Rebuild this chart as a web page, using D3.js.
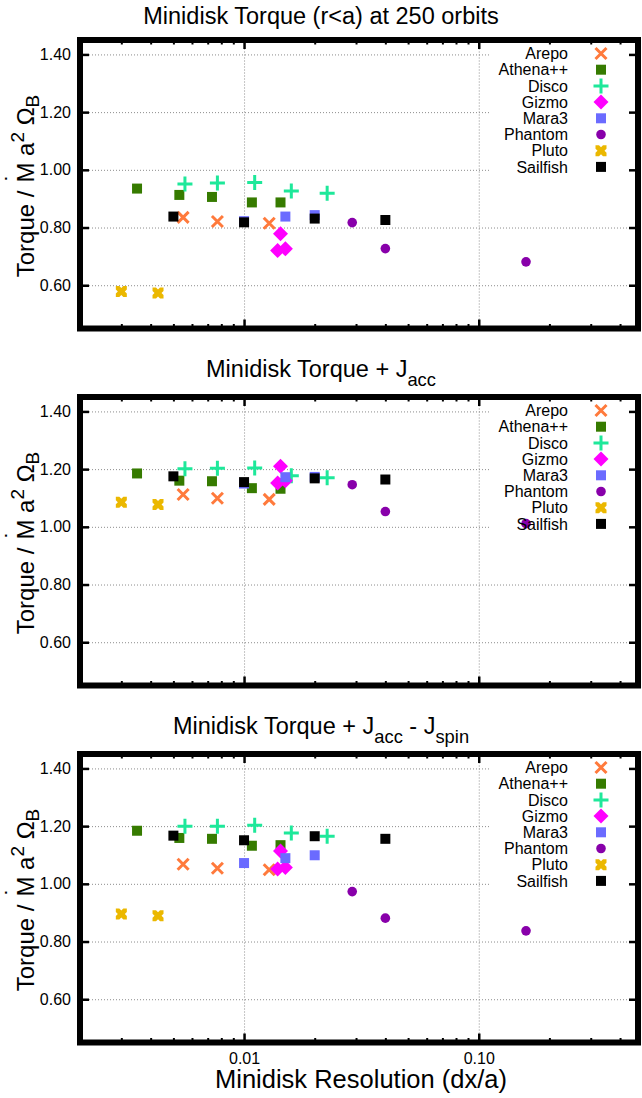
<!DOCTYPE html>
<html>
<head>
<meta charset="utf-8">
<script src="https://cdn.jsdelivr.net/npm/d3@7"></script>
<style>
  body { margin: 0; background: #fff; }
  text { font-family: "Liberation Sans", Arial, sans-serif; fill: #000; }
</style>
</head>
<body>
<div id="chart"></div>
<script>
// Series names, colours and marker shapes (legend order = draw order)
var seriesNames = ["Arepo", "Athena++", "Disco", "Gizmo", "Mara3", "Phantom", "Pluto", "Sailfish"];
var seriesColors = ["#ff7a3c", "#367b00", "#1ee89a", "#ff00ff", "#6b6bff", "#8800aa", "#ebb800", "#000000"];
var seriesShapes = ["x", "square", "plus", "diamond", "square", "circle", "bowtie", "square"];

// Minidisk resolution (dx/a) of each run
var arepoRes = [0.0055, 0.0077, 0.0128];
var athenaRes = [0.0035, 0.0053, 0.0073, 0.0108, 0.0143];
var discoRes = [0.0056, 0.0077, 0.0111, 0.0159, 0.0226];
var gizmoRes = [0.0143, 0.0139, 0.0150];
var mara3Res = [0.010, 0.015, 0.020];
var phantomRes = [0.0289, 0.040, 0.159];
var plutoRes = [0.0030, 0.0043];
var sailfishRes = [0.005, 0.010, 0.020, 0.040];

// Panel 1: minidisk torque (r<a)
var arepoTorque = [0.835, 0.821, 0.815];
var athenaTorque = [0.935, 0.913, 0.906, 0.887, 0.887];
var discoTorque = [0.951, 0.954, 0.956, 0.927, 0.919];
var gizmoTorque = [0.778, 0.720, 0.726];
var mara3Torque = [0.822, 0.838, 0.843];
var phantomTorque = [0.817, 0.727, 0.681];
var plutoTorque = [0.578, 0.573];
var sailfishTorque = [0.838, 0.818, 0.831, 0.826];

// Panel 2: torque + J_acc
var arepoAcc = [1.112, 1.099, 1.095];
var athenaAcc = [1.185, 1.160, 1.158, 1.134, 1.132];
var discoAcc = [1.201, 1.203, 1.204, 1.177, 1.170];
var gizmoAcc = [1.210, 1.152, 1.160];
var mara3Acc = [1.150, 1.172, 1.173];
var phantomAcc = [1.146, 1.053, 1.011];
var plutoAcc = [1.085, 1.077];
var sailfishAcc = [1.175, 1.155, 1.168, 1.164];

// Panel 3: torque + J_acc - J_spin
var arepoSpin = [1.068, 1.054, 1.049];
var athenaSpin = [1.184, 1.159, 1.156, 1.132, 1.134];
var discoSpin = [1.200, 1.200, 1.203, 1.176, 1.165];
var gizmoSpin = [1.114, 1.051, 1.057];
var mara3Spin = [1.072, 1.089, 1.099];
var phantomSpin = [0.973, 0.881, 0.837];
var plutoSpin = [0.895, 0.889];
var sailfishSpin = [1.167, 1.151, 1.165, 1.156];

// Axis ticks
var yTicks = [0.6, 0.8, 1.0, 1.2, 1.4];
var xMajorTicks = [0.01, 0.1];
var xMinorTicks = [0.003, 0.004, 0.005, 0.006, 0.007, 0.008, 0.009,
                   0.02, 0.03, 0.04, 0.05, 0.06, 0.07, 0.08, 0.09, 0.2, 0.3, 0.4];

var resolutions = [arepoRes, athenaRes, discoRes, gizmoRes, mara3Res, phantomRes, plutoRes, sailfishRes];
var panels = [
  { title: [["Minidisk Torque (r<a) at 250 orbits", 0]],
    values: [arepoTorque, athenaTorque, discoTorque, gizmoTorque, mara3Torque, phantomTorque, plutoTorque, sailfishTorque] },
  { title: [["Minidisk Torque + J", 0], ["acc", -1]],
    values: [arepoAcc, athenaAcc, discoAcc, gizmoAcc, mara3Acc, phantomAcc, plutoAcc, sailfishAcc] },
  { title: [["Minidisk Torque + J", 0], ["acc", -1], [" - J", 0], ["spin", -1]],
    values: [arepoSpin, athenaSpin, discoSpin, gizmoSpin, mara3Spin, phantomSpin, plutoSpin, sailfishSpin] }
];

var svgWidth = 642;
var svgHeight = 1098;
var left = 80, right = 638;
var panelTops = [40, 397, 754];
var panelHeight = 288.5;

var svg = d3.select("#chart")
  .append("svg")
  .attr("width", svgWidth)
  .attr("height", svgHeight);

var xScale = d3.scaleLog()
  .domain([0.002, 0.477])
  .range([left, right]);

// marker path for each shape, centred on 0,0
function markerPath(shape) {
  if (shape === "square") return "M-5,-5H5V5H-5Z";
  if (shape === "diamond") return "M0,-7.5L7.5,0L0,7.5L-7.5,0Z";
  if (shape === "x") return "M-5.5,-5.5L5.5,5.5M-5.5,5.5L5.5,-5.5";
  if (shape === "plus") return "M-7.5,0H7.5M0,-7.5V7.5";
  if (shape === "bowtie") {
    return "M-5.5,-5.5L-2,-5.5L0,-3.5L2,-5.5L5.5,-5.5L5.5,-2L3.5,0L5.5,2L5.5,5.5" +
           "L2,5.5L0,3.5L-2,5.5L-5.5,5.5L-5.5,2L-3.5,0L-5.5,-2Z";
  }
  return null;
}

function drawMarker(sel, shape, color) {
  if (shape === "circle") {
    return sel.append("circle").attr("r", 4.8).attr("fill", color);
  }
  var p = sel.append("path").attr("d", markerPath(shape));
  if (shape === "x" || shape === "plus") {
    p.attr("fill", "none").attr("stroke", color).attr("stroke-width", 3);
  } else {
    p.attr("fill", color);
  }
  return p;
}

// write text made of [string, shift] pieces; shift 1 = superscript, -1 = subscript
function richText(textSel, pieces, size) {
  var current = 0;
  pieces.forEach(function(pc) {
    var target = pc[1] * size * 0.4;
    var t = textSel.append("tspan")
      .attr("dy", -(target - current))
      .text(pc[0]);
    if (pc[1] !== 0) t.attr("font-size", size * 0.78);
    current = target;
  });
}

panels.forEach(function(panel, pi) {
  var top = panelTops[pi];
  var bottom = top + panelHeight;
  var g = svg.append("g");

  var yScale = d3.scaleLinear()
    .domain([0.45, 1.45])
    .range([bottom, top]);

  // grid
  g.append("g")
    .attr("transform", `translate(${left},0)`)
    .call(d3.axisLeft(yScale).tickValues(yTicks).tickSize(-(right - left)).tickFormat(""))
    .call(s => s.select(".domain").remove())
    .selectAll("line")
    .attr("stroke", "#8c8c8c").attr("stroke-width", 1).attr("stroke-dasharray", "1,2");

  g.append("g")
    .attr("transform", `translate(0,${bottom})`)
    .call(d3.axisBottom(xScale).tickValues(xMajorTicks).tickSize(-panelHeight).tickFormat(""))
    .call(s => s.select(".domain").remove())
    .selectAll("line")
    .attr("stroke", "#8c8c8c").attr("stroke-width", 1).attr("stroke-dasharray", "1,2");

  // key area clears the grid
  g.append("rect")
    .attr("x", 490).attr("y", top + 3)
    .attr("width", right - 3 - 490).attr("height", 137)
    .attr("fill", "#fff");

  // points
  seriesNames.forEach(function(name, si) {
    var xs = resolutions[si];
    var ys = panel.values[si];
    xs.forEach(function(xv, k) {
      var m = g.append("g")
        .attr("transform", `translate(${xScale(xv)},${yScale(ys[k])})`);
      drawMarker(m, seriesShapes[si], seriesColors[si]);
    });
  });

  // ticks: left/right major, bottom/top major + minor
  function styleTicks(s, w) {
    s.select(".domain").remove();
    s.selectAll("line").attr("stroke", "#000").attr("stroke-width", w);
  }

  var leftAxis = g.append("g")
    .attr("transform", `translate(${left},0)`)
    .call(d3.axisLeft(yScale).tickValues(yTicks).tickSize(-9).tickPadding(9).tickFormat(d3.format(".2f")))
    .call(s => styleTicks(s, 2.5));
  leftAxis.selectAll("text")
    .attr("font-size", 16)
    .attr("font-family", "Liberation Sans, Arial, sans-serif");

  g.append("g")
    .attr("transform", `translate(${right},0)`)
    .call(d3.axisRight(yScale).tickValues(yTicks).tickSize(-9).tickFormat(""))
    .call(s => styleTicks(s, 2.5));

  var bottomAxis = g.append("g")
    .attr("transform", `translate(0,${bottom})`)
    .call(d3.axisBottom(xScale).tickValues(xMajorTicks).tickSize(-9).tickPadding(10)
      .tickFormat(pi === 2 ? d3.format(".2f") : ""))
    .call(s => styleTicks(s, 2.5));
  bottomAxis.selectAll("text")
    .attr("font-size", 16)
    .attr("font-family", "Liberation Sans, Arial, sans-serif");

  g.append("g")
    .attr("transform", `translate(0,${bottom})`)
    .call(d3.axisBottom(xScale).tickValues(xMinorTicks).tickSize(-4.5).tickFormat(""))
    .call(s => styleTicks(s, 2));

  g.append("g")
    .attr("transform", `translate(0,${top})`)
    .call(d3.axisTop(xScale).tickValues(xMajorTicks).tickSize(-9).tickFormat(""))
    .call(s => styleTicks(s, 2.5));

  g.append("g")
    .attr("transform", `translate(0,${top})`)
    .call(d3.axisTop(xScale).tickValues(xMinorTicks).tickSize(-4.5).tickFormat(""))
    .call(s => styleTicks(s, 2));

  // frame
  g.append("rect")
    .attr("x", left).attr("y", top)
    .attr("width", right - left).attr("height", panelHeight)
    .attr("fill", "none").attr("stroke", "#000").attr("stroke-width", 6);

  // title
  var title = g.append("text")
    .attr("x", 321)
    .attr("y", pi === 0 ? top - 16 : top - 20)
    .attr("text-anchor", "middle")
    .attr("font-size", 23.5);
  richText(title, panel.title, 23.5);

  // y label (M with an overdot)
  var ylab = g.append("text")
    .attr("transform", `translate(34,${top + 146}) rotate(-90)`)
    .attr("text-anchor", "middle")
    .attr("font-size", 24);
  ylab.append("tspan").text("Torque /");
  ylab.append("tspan").attr("dx", 9).attr("dy", -12).text("˙");
  ylab.append("tspan").attr("dx", -9).attr("dy", 12).text("M a");
  ylab.append("tspan").attr("dy", -10).attr("font-size", 19).text("2");
  ylab.append("tspan").attr("dy", 10).text(" Ω");
  ylab.append("tspan").attr("dy", 5).attr("font-size", 19).text("B");

  // key
  var key = g.append("g");
  seriesNames.forEach(function(name, si) {
    var ry = top + 13.5 + si * 16.2;
    key.append("text")
      .attr("x", 568).attr("y", ry)
      .attr("dy", "0.36em")
      .attr("text-anchor", "end")
      .attr("font-size", 16)
      .text(name);
    var m = key.append("g").attr("transform", `translate(601,${ry})`);
    drawMarker(m, seriesShapes[si], seriesColors[si]);
  });
});

// x axis label
svg.append("text")
  .attr("x", 361)
  .attr("y", 1088)
  .attr("text-anchor", "middle")
  .attr("font-size", 25.5)
  .text("Minidisk Resolution (dx/a)");
</script>
</body>
</html>
